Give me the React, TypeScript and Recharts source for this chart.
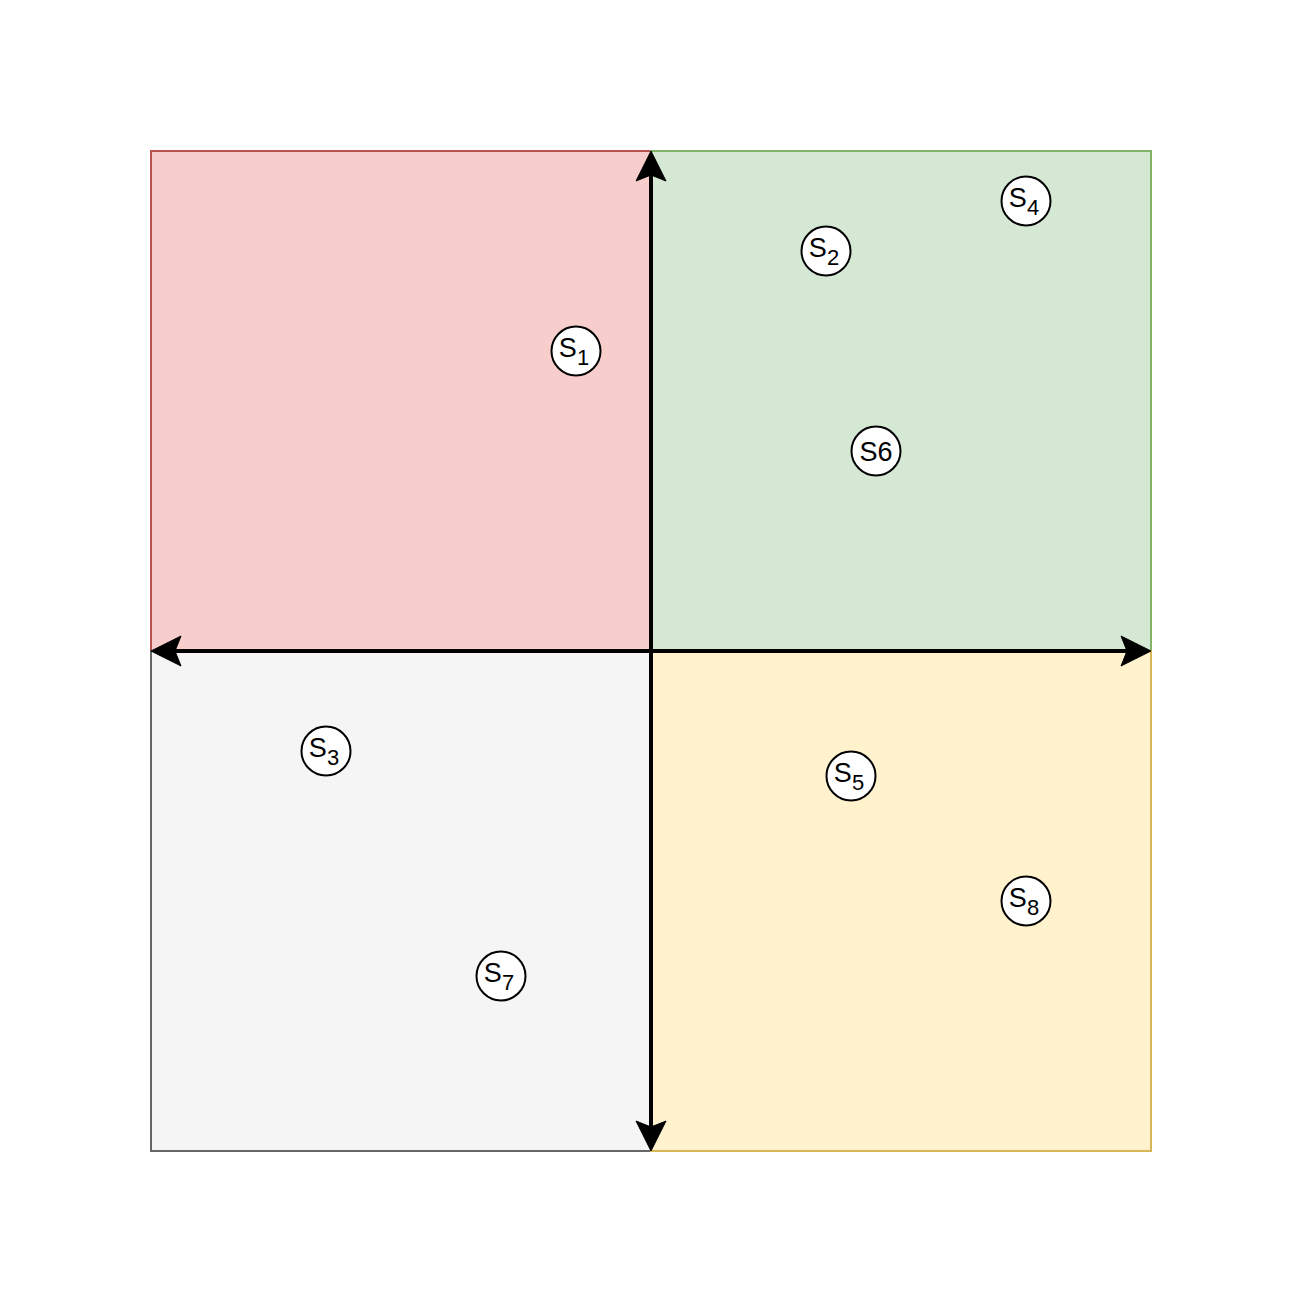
import React from 'react';
import { ScatterChart, Scatter, XAxis, YAxis, ReferenceArea, ReferenceLine } from 'recharts';

// Quadrant bounds (data units)
const quadrantNames = ['topLeft', 'topRight', 'bottomLeft', 'bottomRight'];
const quadrantX1 = [-10, 0, -10, 0];
const quadrantX2 = [0, 10, 0, 10];
const quadrantY1 = [0, 0, -10, -10];
const quadrantY2 = [10, 10, 0, 0];
const quadrantFill = ['#f8cecc', '#d5e8d4', '#f5f5f5', '#fff2cc'];
const quadrantStroke = ['#b85450', '#82b366', '#666666', '#d6b656'];

// Points
const pointMain = ['S', 'S', 'S', 'S', 'S', 'S6', 'S', 'S'];
const pointSub = ['1', '2', '3', '4', '5', '', '7', '8'];
const pointX = [-1.5, 3.5, -6.5, 7.5, 4, 4.5, -3, 7.5];
const pointY = [6, 8, -2, 9, -2.5, 4, -6.5, -5];

const points = pointX.map((x, i) => ({ x, y: pointY[i], main: pointMain[i], sub: pointSub[i] }));

const FONT = '"Liberation Sans", Arial, Helvetica, sans-serif';

function arrowHead(tx: number, ty: number, dx: number, dy: number) {
  const len = 30;
  const notch = 24;
  const half = 15;
  const px = -dy;
  const py = dx;
  const bx = tx - dx * len;
  const by = ty - dy * len;
  const nx = tx - dx * notch;
  const ny = ty - dy * notch;
  return `M${tx},${ty} L${bx + px * half},${by + py * half} L${nx},${ny} L${bx - px * half},${by - py * half} Z`;
}

const DoubleArrow = (props: any) => {
  const { x1, y1, x2, y2 } = props;
  const L = Math.hypot(x2 - x1, y2 - y1) || 1;
  const ux = (x2 - x1) / L;
  const uy = (y2 - y1) / L;
  return (
    <g>
      <line
        x1={x1 + ux * 20}
        y1={y1 + uy * 20}
        x2={x2 - ux * 20}
        y2={y2 - uy * 20}
        stroke="#000"
        strokeWidth={4}
      />
      <path d={arrowHead(x2, y2, ux, uy)} fill="#000" stroke="#000" strokeWidth={1} />
      <path d={arrowHead(x1, y1, -ux, -uy)} fill="#000" stroke="#000" strokeWidth={1} />
    </g>
  );
};

const PointShape = (props: any) => {
  const { cx, cy, payload } = props;
  if (cx == null || cy == null) return null;
  const hasSub = payload.sub !== '';
  return (
    <g>
      <circle cx={cx} cy={cy} r={24.5} fill="#ffffff" stroke="#000" strokeWidth={2} />
      {hasSub ? (
        <text x={cx - 2} y={cy + 6} textAnchor="middle" fontFamily={FONT} fontSize={27} fill="#000">
          {payload.main}
          <tspan dy={8} fontSize={22}>{payload.sub}</tspan>
        </text>
      ) : (
        <text x={cx} y={cy + 10} textAnchor="middle" fontFamily={FONT} fontSize={27} fill="#000">
          {payload.main}
        </text>
      )}
    </g>
  );
};

export default function App() {
  return (
    <div style={{ position: 'absolute', left: 0, top: 0, width: 1303, height: 1305, background: '#fff' }}>
      <ScatterChart
        width={1303}
        height={1305}
        margin={{ top: 151, right: 152, bottom: 154, left: 151 }}
      >
        <XAxis type="number" dataKey="x" domain={[-10, 10]} hide allowDataOverflow />
        <YAxis type="number" dataKey="y" domain={[-10, 10]} hide allowDataOverflow />
        {quadrantNames.map((n, i) => (
          <ReferenceArea
            key={n}
            x1={quadrantX1[i]}
            x2={quadrantX2[i]}
            y1={quadrantY1[i]}
            y2={quadrantY2[i]}
            fill={quadrantFill[i]}
            fillOpacity={1}
            stroke={quadrantStroke[i]}
            strokeWidth={2}
          />
        ))}
        <ReferenceLine x={0} stroke="#000" shape={DoubleArrow} />
        <ReferenceLine y={0} stroke="#000" shape={DoubleArrow} />
        <Scatter data={points} isAnimationActive={false} shape={PointShape} />
      </ScatterChart>
    </div>
  );
}
